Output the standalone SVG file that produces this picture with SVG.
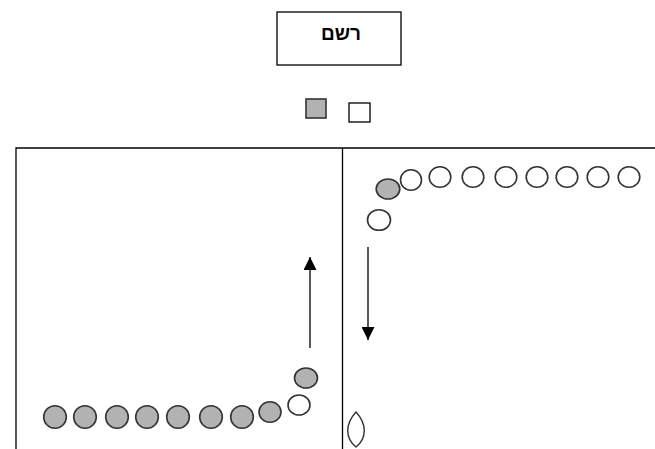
<svg xmlns="http://www.w3.org/2000/svg" width="655" height="449" viewBox="0 0 655 449">
<style>
.ln{stroke:#000;stroke-width:1.3;fill:none}
.g{fill:#b2b2b2;stroke:#333;stroke-width:1.6}
.w{fill:#fff;stroke:#333;stroke-width:1.6}
.t{font-family:"Liberation Sans",Arial,sans-serif;font-size:19px;font-weight:bold;text-anchor:middle}
</style>
<defs>
<marker id="ah" markerWidth="13" markerHeight="13" refX="13" refY="6.5" orient="auto" markerUnits="userSpaceOnUse">
<path d="M0,0 L13,6.5 L0,13 Z" fill="#000"/>
</marker>
</defs>
<rect width="655" height="449" fill="#fff"/>
<g id="title">
<rect x="277" y="12" width="124" height="53" fill="#fff" stroke="#000" stroke-width="1.3"/>
<text class="t" x="341" y="40" direction="rtl">רשם</text>
</g>
<g id="legend">
<rect x="306" y="99" width="20" height="19" class="g"/>
<rect x="349" y="103" width="21" height="19" fill="#fff" stroke="#000" stroke-width="1.3"/>
</g>
<g id="frame">
<path class="ln" d="M16,449 V148 H655 M342.5,148 V449"/>
</g>
<g id="right-queue">
<ellipse class="w" cx="411" cy="180" rx="10.5" ry="10.3"/>
<ellipse class="w" cx="440" cy="177" rx="10.8" ry="10.3"/>
<ellipse class="w" cx="473" cy="177" rx="10.8" ry="10.3"/>
<ellipse class="w" cx="506" cy="177" rx="10.8" ry="10.3"/>
<ellipse class="w" cx="537" cy="177" rx="10.8" ry="10.3"/>
<ellipse class="w" cx="567" cy="177" rx="10.8" ry="10.3"/>
<ellipse class="w" cx="598" cy="177" rx="10.8" ry="10.3"/>
<ellipse class="w" cx="629" cy="177" rx="10.8" ry="10.3"/>
<ellipse class="g" cx="388" cy="189" rx="11.8" ry="10"/>
<ellipse class="w" cx="379" cy="220" rx="11.5" ry="10.3"/>
</g>
<g id="left-queue">
<circle class="g" cx="55" cy="417" r="11.3"/>
<circle class="g" cx="85" cy="417" r="11.3"/>
<circle class="g" cx="117" cy="417" r="11.3"/>
<circle class="g" cx="147" cy="417" r="11.3"/>
<circle class="g" cx="178" cy="417" r="11.3"/>
<circle class="g" cx="211" cy="417" r="11.3"/>
<circle class="g" cx="242" cy="417" r="11.3"/>
<ellipse class="g" cx="270" cy="412" rx="11" ry="10.3"/>
<ellipse class="w" cx="299" cy="405" rx="11" ry="10"/>
<ellipse class="g" cx="306" cy="378" rx="11.5" ry="10"/>
</g>
<g id="leaf">
<path d="M356,412 C367,424 367,438 356,447 C345,438 345,424 356,412 Z" fill="#fff" stroke="#333" stroke-width="1.4"/>
</g>
<g id="connectors">
<line class="ln" x1="310" y1="348" x2="310" y2="257" marker-end="url(#ah)"/>
<line class="ln" x1="368" y1="247" x2="368" y2="340" marker-end="url(#ah)"/>
</g>
</svg>
